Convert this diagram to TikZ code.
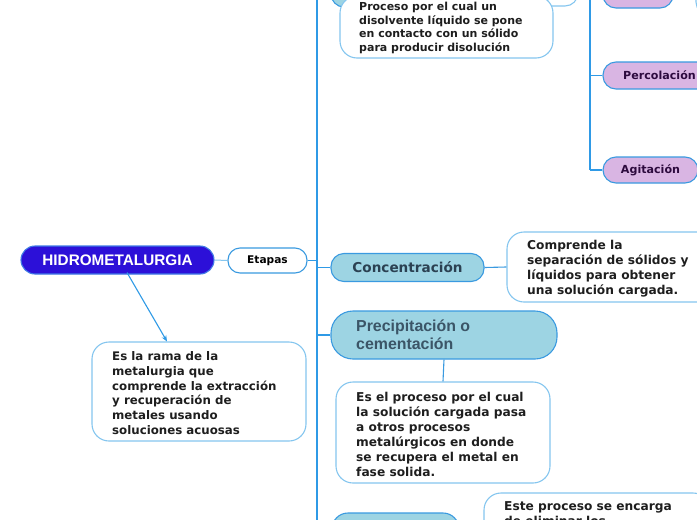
\documentclass[tikz,border=0pt]{standalone}
\usepackage{fontspec}
\setmainfont{DejaVu Sans}
\newfontfamily\arialb{Liberation Sans}
\usetikzlibrary{calc,arrows.meta}
\definecolor{trunkc}{HTML}{2F9AE6}
\definecolor{bordc}{HTML}{3A9AE0}
\definecolor{descb}{HTML}{85C6EF}
\definecolor{stagef}{HTML}{9DD4E3}
\definecolor{purplef}{HTML}{D9B5E3}
\definecolor{purplet}{HTML}{2D0A3E}
\definecolor{staget}{HTML}{2B4152}
\definecolor{precipt}{HTML}{3B5567}
\definecolor{hidrof}{HTML}{2C10D8}
\definecolor{hidrob}{HTML}{3F7AE6}
\definecolor{desct}{HTML}{1E1E1E}
\tikzset{
  descbox/.style={draw=descb, line width=1.1pt, fill=white, rounded corners=17pt, inner sep=0pt},
  desctext/.style={anchor=west, align=left, inner sep=0pt, text=desct},
  stagebox/.style={draw=bordc, line width=1.1pt, fill=stagef, rounded corners=13pt, inner sep=0pt, text=staget},
  purplebox/.style={draw=bordc, line width=1.1pt, fill=purplef, rounded corners=13pt, inner sep=0pt, text=purplet,
     font=\fontsize{11.1}{13}\selectfont\bfseries},
  trunk/.style={draw=trunkc, line width=1.8pt},
  branch/.style={draw=trunkc, line width=1.4pt},
  thinlink/.style={draw=bordc, line width=1.1pt},
}
\begin{document}
\begin{tikzpicture}[x=1pt,y=-1pt]
\clip (0,0) rectangle (697,520);
\fill[white] (0,0) rectangle (697,520);

% trunks
\coordinate (tt) at (317,-30);
\coordinate (tb) at (317,560);
\coordinate (t2t) at (590,-12);
\coordinate (t2b) at (590,169.5);
\draw[trunk] (tt) -- (tb);
\draw[trunk] (t2t) -- (t2b);

% root
\node[draw=hidrob, line width=1.1pt, fill=hidrof, rounded corners=14pt, minimum width=193pt, minimum height=28pt,
      inner sep=0pt, text=white, font=\arialb\fontsize{15.3}{17}\selectfont\bfseries]
      (hidro) at (117.5,260) {HIDROMETALURGIA};
\node[draw=bordc, line width=1.1pt, fill=white, rounded corners=12pt, minimum width=79pt, minimum height=25pt,
      inner sep=0pt, font=\fontsize{10.6}{12}\selectfont\bfseries]
      (etapas) at (267.5,260.5) {Etapas};
\draw[draw=descb, line width=1pt] (hidro.east) -- (etapas.west);
\draw[trunk] (etapas.east) -- (etapas.east -| tt);

% definition of root
\node[descbox, minimum width=214pt, minimum height=99pt] (d1) at (199,391.5) {};
\node[desctext, font=\fontsize{11.8}{14.7}\selectfont\bfseries] (d1t) at (112,393)
  {Es la rama de la\\metalurgia que\\comprende la extracción\\y recuperación de\\metales usando\\soluciones acuosas};
\draw[draw=trunkc, line width=1.1pt, -{Stealth[length=6pt,width=5pt]}]
  ($(hidro.south)+(9.5,-2)$) -- ($(d1.north)+(-32,0)$);

% top stage (cut off)
\node[stagebox, minimum width=130pt, minimum height=27pt] (lix) at (396,-6.5) {};
\node[descbox, rounded corners=13pt, minimum width=110pt, minimum height=27pt] (lixw) at (523,-7.5) {};
\draw[branch] (lix.west) -- (lix.west -| tt);
\draw[branch] (lixw.east) -- (lixw.east -| t2t);
\node[descbox, minimum width=213pt, minimum height=62pt] (d0) at (446.5,27) {};
\node[desctext, font=\fontsize{11}{13.6}\selectfont\bfseries] (d0t) at (359,28)
  {Proceso por el cual un\\disolvente líquido se pone\\en contacto con un sólido\\para producir disolución};

% leaching methods
\node[purplebox, minimum width=70pt, minimum height=26pt] (pm1) at (638,-5) {};
\node[purplebox, minimum width=113pt, minimum height=27pt] (perc) at (659.5,75.5) {Percolación};
\node[purplebox, minimum width=95pt, minimum height=26pt] (agit) at (650.5,170) {Agitación};
\node[descbox, rounded corners=13pt, minimum width=70pt, minimum height=45pt] (pm1d) at (731,-7.5) {};
\draw[branch] (pm1.west) -- (pm1.west -| t2t);
\draw[branch] (perc.west) -- (perc.west -| t2t);
\draw[branch] (agit.west) -- (agit.west -| t2t);

% Concentracion
\node[stagebox, minimum width=153pt, minimum height=28pt, font=\fontsize{13.6}{16}\selectfont\bfseries]
  (conc) at (407.5,267.5) {Concentración};
\draw[branch] (conc.west) -- (conc.west -| tt);
\node[descbox, minimum width=210pt, minimum height=70pt] (d2) at (612,267) {};
\node[desctext, font=\fontsize{12.2}{15}\selectfont\bfseries] (d2t) at (527,268.5)
  {Comprende la\\separación de sólidos y\\líquidos para obtener\\una solución cargada.};
\draw[thinlink] (conc.east) -- (d2.west);

% Precipitacion
\node[stagebox, rounded corners=22pt, minimum width=226pt, minimum height=48pt] (prec) at (444,335) {};
\node[anchor=west, align=left, inner sep=0pt, text=precipt, font=\arialb\fontsize{15.9}{18}\selectfont\bfseries]
  (prect) at (356,335) {Precipitación o\\cementación};
\draw[branch] (prec.west) -- (prec.west -| tt);
\node[descbox, minimum width=214pt, minimum height=101pt] (d3) at (443,432.5) {};
\node[desctext, font=\fontsize{12.2}{15}\selectfont\bfseries] (d3t) at (356,434.5)
  {Es el proceso por el cual\\la solución cargada pasa\\a otros procesos\\metalúrgicos en donde\\se recupera el metal en\\fase solida.};
\draw[thinlink] (prec.south) -- (d3.north);

% bottom stage (cut off)
\node[stagebox, rounded corners=16pt, minimum width=127pt, minimum height=34pt] (last) at (395.5,530) {};
\draw[branch] (last.west) -- (last.west -| tt);
\node[descbox, minimum width=226pt, minimum height=80pt] (d4) at (597,533) {};
\node[anchor=north west, align=left, inner sep=0pt, text=desct, font=\fontsize{12.2}{15}\selectfont\bfseries]
  (d4t) at (504,501.5) {Este proceso se encarga\\de eliminar los};
\end{tikzpicture}
\end{document}
